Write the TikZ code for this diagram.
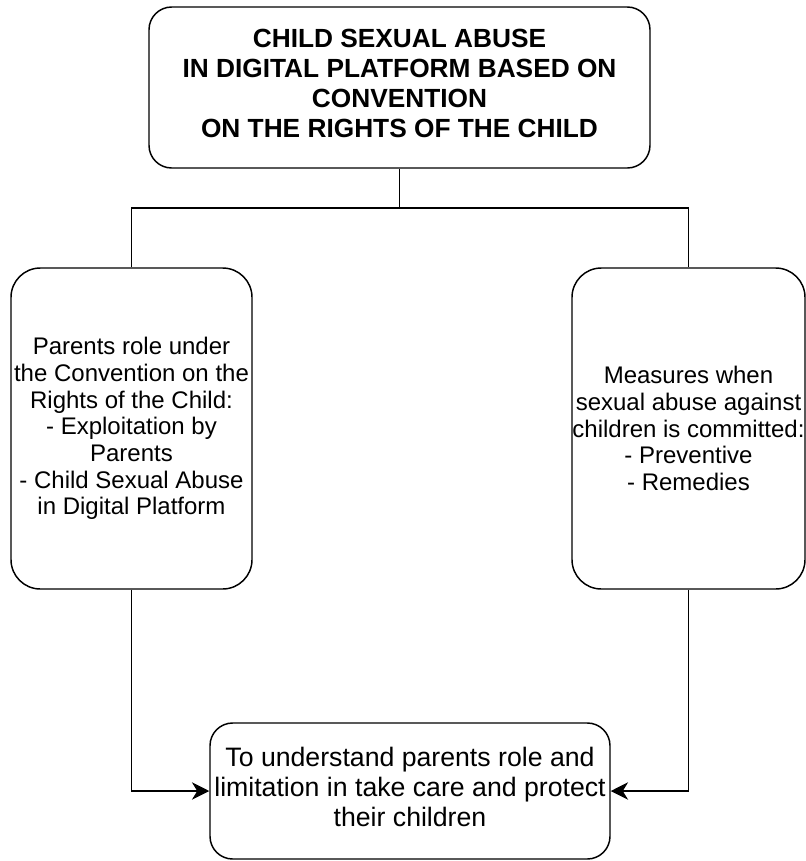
\documentclass[tikz,border=0pt]{standalone}
\usepackage{fontspec}
\setmainfont{Liberation Sans}
\usetikzlibrary{arrows.meta}
\tikzset{
  box/.style={draw=black, line width=1.1pt, fill=white, rectangle, inner sep=0pt},
  lbl/.style={inner sep=0pt, align=center},
  conn/.style={draw=black, line width=1.1pt},
  arr/.style={conn, -{Stealth[length=13pt,width=13pt,inset=4pt]}},
  titletext/.style={font=\bfseries\fontsize{19.7}{22.5}\selectfont},
  sidetext/.style={font=\fontsize{18}{20}\selectfont},
  bottext/.style={font=\fontsize{20}{22.5}\selectfont}
}
\begin{document}
\begin{tikzpicture}[x=0.75pt,y=-0.75pt]
\useasboundingbox (0,0) rectangle (806,861);
\node[box, rounded corners=17pt, minimum width=501*0.75pt, minimum height=161*0.75pt] (top) at (399.5,87.5) {};
\node[lbl, titletext] (toptext) at (399.5,83)
  {CHILD SEXUAL ABUSE\\IN DIGITAL PLATFORM BASED ON\\CONVENTION\\ON THE RIGHTS OF THE CHILD};
\node[box, lbl, sidetext, rounded corners=22pt, minimum width=241*0.75pt, minimum height=321*0.75pt] (left) at (131.5,428.5)
  {Parents role under\\the Convention on the\\Rights of the Child:\\- Exploitation by\\Parents\\- Child Sexual Abuse\\in Digital Platform};
\node[box, lbl, sidetext, rounded corners=22pt, minimum width=233*0.75pt, minimum height=321*0.75pt] (right) at (688.5,428.5)
  {Measures when\\sexual abuse against\\children is committed:\\- Preventive\\- Remedies};
\node[box, rounded corners=17pt, minimum width=400*0.75pt, minimum height=136*0.75pt] (bot) at (410,791) {};
\node[lbl, bottext] (bottxt) at (410,787)
  {To understand parents role and\\limitation in take care and protect\\their children};
\coordinate (bus) at (400,208);
\draw[conn] (top.south) -- (top.south |- bus);
\draw[conn] (left.north) |- (bus) -| (right.north);
\draw[arr] (left.south) |- (bot.west);
\draw[arr] (right.south) |- (bot.east);
\end{tikzpicture}
\end{document}
